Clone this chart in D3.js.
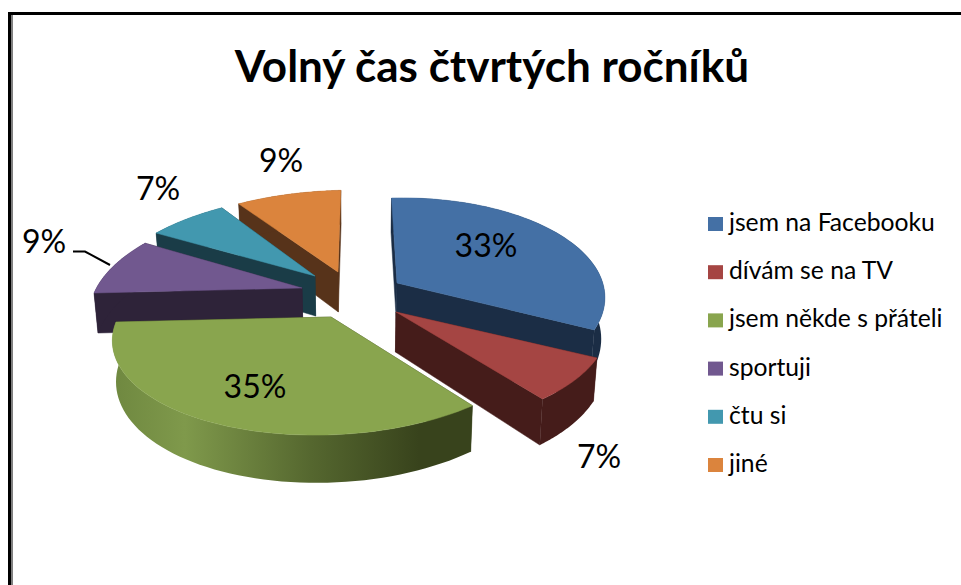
<!DOCTYPE html>
<html lang="cs">
<head>
<meta charset="utf-8">
<title>Volný čas čtvrtých ročníků</title>
<script src="https://cdn.jsdelivr.net/npm/d3@7"></script>
<style>
html,body{margin:0;padding:0;background:#fff;overflow:hidden}
svg{display:block}
text{font-family:Lato,"Open Sans",sans-serif;fill:#000}
</style>
</head>
<body>
<svg id="chart" width="961" height="585"></svg>
<script>
// ---- data ----
const titleText = "Volný čas čtvrtých ročníků";
const categories = ["jsem na Facebooku","dívám se na TV","jsem někde s přáteli","sportuji","čtu si","jiné"];
const values = [33,7,35,9,7,9];
const percentLabels = ["33%","7%","35%","9%","7%","9%"];

// ---- styles ----
const topColors  = ["#4470a5","#a54543","#89a54e","#71588f","#4298af","#db843d"];
const wallColors = ["#1b2d45","#451c1a","#38431c","#2e2339","#1a3c47","#57331a"];

// ---- layout: projection of the tilted pie and per-slice explosion ----
const pieCentre = {x:345, y:290};
const explodeOffsets = [[52,-7],[51,22],[-14,27],[-43,-2],[-30,-14],[-7,-18]];
const sliceRadiusX = [204,208,215,208,209,216];
const sliceRadiusY = [98.8,97,98.8,98.8,95,95];
const labelPositions = [[486,257],[599,468],[255,398],[44,253],[158,200],[281,172]];
const paintOrder = [5,4,3,0,1,2];
const view = {shear:5, persp:0.1626, depth:40, vanishX:358, shrink:0.985};

const svg = d3.select("#chart");

// frame
svg.append("path").attr("d","M12 585V15").attr("fill","none").attr("stroke","#808080").attr("stroke-width",2);
svg.append("path").attr("d","M9.5 585V13.5H961").attr("fill","none").attr("stroke","#000").attr("stroke-width",3);

// title
svg.append("text").attr("x",492).attr("y",82).attr("text-anchor","middle")
  .attr("font-size",44).attr("font-weight",700).text(titleText);

// pie
const arcs = d3.pie().sort(null).value(d=>d)(values);

function project(i, apex, angle, r, lowered){
  const X = r*Math.sin(angle), Y = -r*Math.cos(angle);
  const s = 1/(1 - view.persp*Y);
  let x = apex.x + sliceRadiusX[i]*X*s + (apex.x-view.vanishX)*(s-1);
  let y = apex.y + (sliceRadiusY[i]*Y - view.shear*X)*s;
  if(lowered){
    x = view.vanishX + (x-view.vanishX)*view.shrink;
    y += view.depth*s;
  }
  return [x,y];
}
const line = d3.line();
const defs = svg.append("defs");
const grad = defs.append("linearGradient").attr("id","greenWall").attr("gradientUnits","userSpaceOnUse")
  .attr("x1",113).attr("x2",473).attr("y1",0).attr("y2",0);
[[0,"#6f8840"],[0.2,"#7f994b"],[0.55,"#55672f"],[0.85,"#38431c"],[1,"#38431c"]]
  .forEach(([o,c])=>grad.append("stop").attr("offset",o).attr("stop-color",c));

const pieLayer = svg.append("g");
paintOrder.forEach(i=>{
  const a = arcs[i];
  const apex = {x:pieCentre.x+explodeOffsets[i][0], y:pieCentre.y+explodeOffsets[i][1]};
  const angles = d3.range(0,61).map(k=>a.startAngle+(a.endAngle-a.startAngle)*k/60);
  const rim = angles.map(t=>project(i,apex,t,1,false));
  const rimLow = angles.map(t=>project(i,apex,t,1,true));
  const pa = project(i,apex,0,0,false), pb = project(i,apex,0,0,true);
  const g = pieLayer.append("g");
  const radial = [a.startAngle,a.endAngle]
    .sort((p,q)=>-Math.cos(p)-(-Math.cos(q)))
    .map(t=>[pa,project(i,apex,t,1,false),project(i,apex,t,1,true),pb]);
  radial.forEach(q=>g.append("path").attr("d",line(q)+"Z").attr("fill",wallColors[i]).attr("stroke",wallColors[i]).attr("stroke-width",0.5));
  const outerFill = i===2 ? "url(#greenWall)" : wallColors[i];
  g.append("path").attr("d",line(rim.concat(rimLow.slice().reverse()))+"Z").attr("fill",outerFill);
  g.append("path").attr("d",line([pa].concat(rim))+"Z").attr("fill",topColors[i]).attr("stroke",topColors[i]).attr("stroke-width",0.5);
});

// leader line of the purple slice
svg.append("path").attr("d",line([[73,251.5],[85,251.5],[110,265]]))
  .attr("fill","none").attr("stroke","#000").attr("stroke-width",2);

// data labels
svg.append("g").selectAll("text").data(percentLabels).join("text")
  .attr("x",(d,i)=>labelPositions[i][0]).attr("y",(d,i)=>labelPositions[i][1])
  .attr("text-anchor","middle").attr("font-size",32).text(d=>d);

// legend
const rowY = d3.scaleLinear().domain([0,categories.length-1]).range([224,465]);
const legend = svg.append("g").selectAll("g").data(categories).join("g")
  .attr("transform",(d,i)=>`translate(708,${rowY(i)})`);
legend.append("rect").attr("x",0).attr("y",-7).attr("width",15).attr("height",14)
  .attr("fill",(d,i)=>topColors[i]);
legend.append("text").attr("x",21).attr("y",7).attr("font-size",24.7).text(d=>d);
</script>
</body>
</html>
